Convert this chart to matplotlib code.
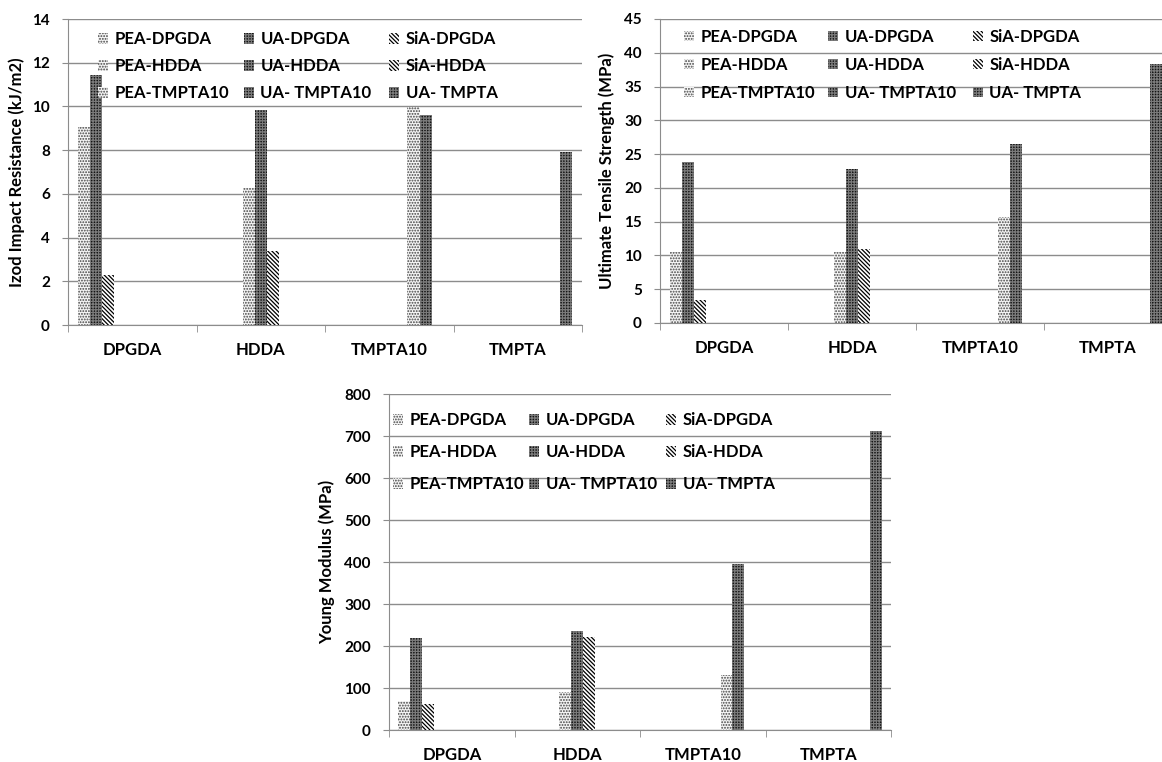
import matplotlib.pyplot as plt
import numpy as np

plt.rcParams["font.family"] = ["Lato", "DejaVu Sans"]
plt.rcParams["font.weight"] = "bold"
plt.rcParams["hatch.linewidth"] = 0.9

# categories (x axis) and the nine series, each sitting in one category
categories = ["DPGDA", "HDDA", "TMPTA10", "TMPTA"]
series_labels = ["PEA-DPGDA", "UA-DPGDA", "SiA-DPGDA",
                 "PEA-HDDA", "UA-HDDA", "SiA-HDDA",
                 "PEA-TMPTA10", "UA- TMPTA10", "UA- TMPTA"]
series_cat = [0, 0, 0, 1, 1, 1, 2, 2, 3]

izod = [9.08, 11.45, 2.29, 6.25, 9.84, 3.38, 9.96, 9.61, 7.9]
uts = [10.5, 23.8, 3.45, 10.5, 22.85, 10.95, 15.7, 26.45, 38.3]
young = [68, 219, 62, 90, 235, 221, 132, 395, 712]

# pattern per material family
styles = {
    "PEA": dict(facecolor="#f4f4f4", edgecolor="#444444", hatch="......"),
    "UA": dict(facecolor="#141414", edgecolor="#7a7a7a", hatch="++++++"),
    "SiA": dict(facecolor="white", edgecolor="black", hatch="\\\\\\\\\\\\\\\\"),
}

grid_col = "#8c8c8c"
n = len(series_labels)
group = 0.85
bw = group / n


def draw(ax, values, ylabel, ymax, ystep, label_x, leg_x, leg_y, leg_spacing):
    for i, (lab, v, c) in enumerate(zip(series_labels, values, series_cat)):
        fam = lab.split("-")[0]
        x = c - group / 2 + (i + 0.5) * bw
        ax.bar(x, v, width=bw, linewidth=0, label=lab, zorder=3, **styles[fam])

    ax.set_xlim(-0.5, len(categories) - 0.5)
    ax.set_ylim(0, ymax)
    ax.set_yticks(np.arange(0, ymax + ystep / 2, ystep))
    ax.set_xticks(range(len(categories)))
    ax.set_xticklabels(categories, fontsize=12, fontweight="bold")
    ax.set_xticks(np.arange(-0.5, len(categories) + 0.5, 1), minor=True)
    ax.tick_params(axis="x", which="major", length=0, pad=12)
    ax.tick_params(axis="x", which="minor", length=5, color=grid_col)
    ax.tick_params(axis="y", length=4, color=grid_col, pad=9, labelsize=11)
    for t in ax.get_yticklabels():
        t.set_fontweight("bold")
    ax.yaxis.grid(True, color=grid_col, linewidth=1)
    ax.set_axisbelow(True)
    for s in ["top", "right"]:
        ax.spines[s].set_visible(False)
    for s in ["left", "bottom"]:
        ax.spines[s].set_color(grid_col)

    ax.set_ylabel(ylabel, fontsize=12, fontweight="bold")
    ax.yaxis.set_label_coords(label_x, 0.5)

    # legend laid out as three single-column legends (row-wise order like Excel)
    handles, labels = ax.get_legend_handles_labels()
    for col in range(3):
        idx = [col, col + 3, col + 6]
        leg = ax.legend([handles[k] for k in idx], [labels[k] for k in idx],
                        loc="upper left", bbox_to_anchor=(leg_x[col], leg_y),
                        frameon=False, handlelength=0.6, handleheight=0.6,
                        handletextpad=0.4, labelspacing=leg_spacing,
                        borderpad=0, borderaxespad=0,
                        prop={"weight": "bold", "size": 12})
        if col < 2:
            ax.add_artist(leg)


fig = plt.figure(figsize=(11.62, 7.62), dpi=100)
ax1 = fig.add_axes([68 / 1162, 1 - 325 / 762, 514 / 1162, 306 / 762])
ax2 = fig.add_axes([660 / 1162, 1 - 323 / 762, 512 / 1162, 304 / 762])
ax3 = fig.add_axes([389 / 1162, 1 - 730 / 762, 502 / 1162, 336 / 762])

draw(ax1, izod, "Izod Impact Resistance (kJ/m2)", 14, 2, -0.084,
     (0.058, 0.342, 0.625), 0.96, 0.66)
draw(ax2, uts, "Ultimate Tensile Strength (MPa)", 45, 5, -0.088,
     (0.047, 0.328, 0.611), 0.968, 0.72)
draw(ax3, young, "Young Modulus (MPa)", 800, 100, -0.108,
     (0.008, 0.279, 0.552), 0.945, 0.96)

fig.savefig("out.png", dpi=100)
